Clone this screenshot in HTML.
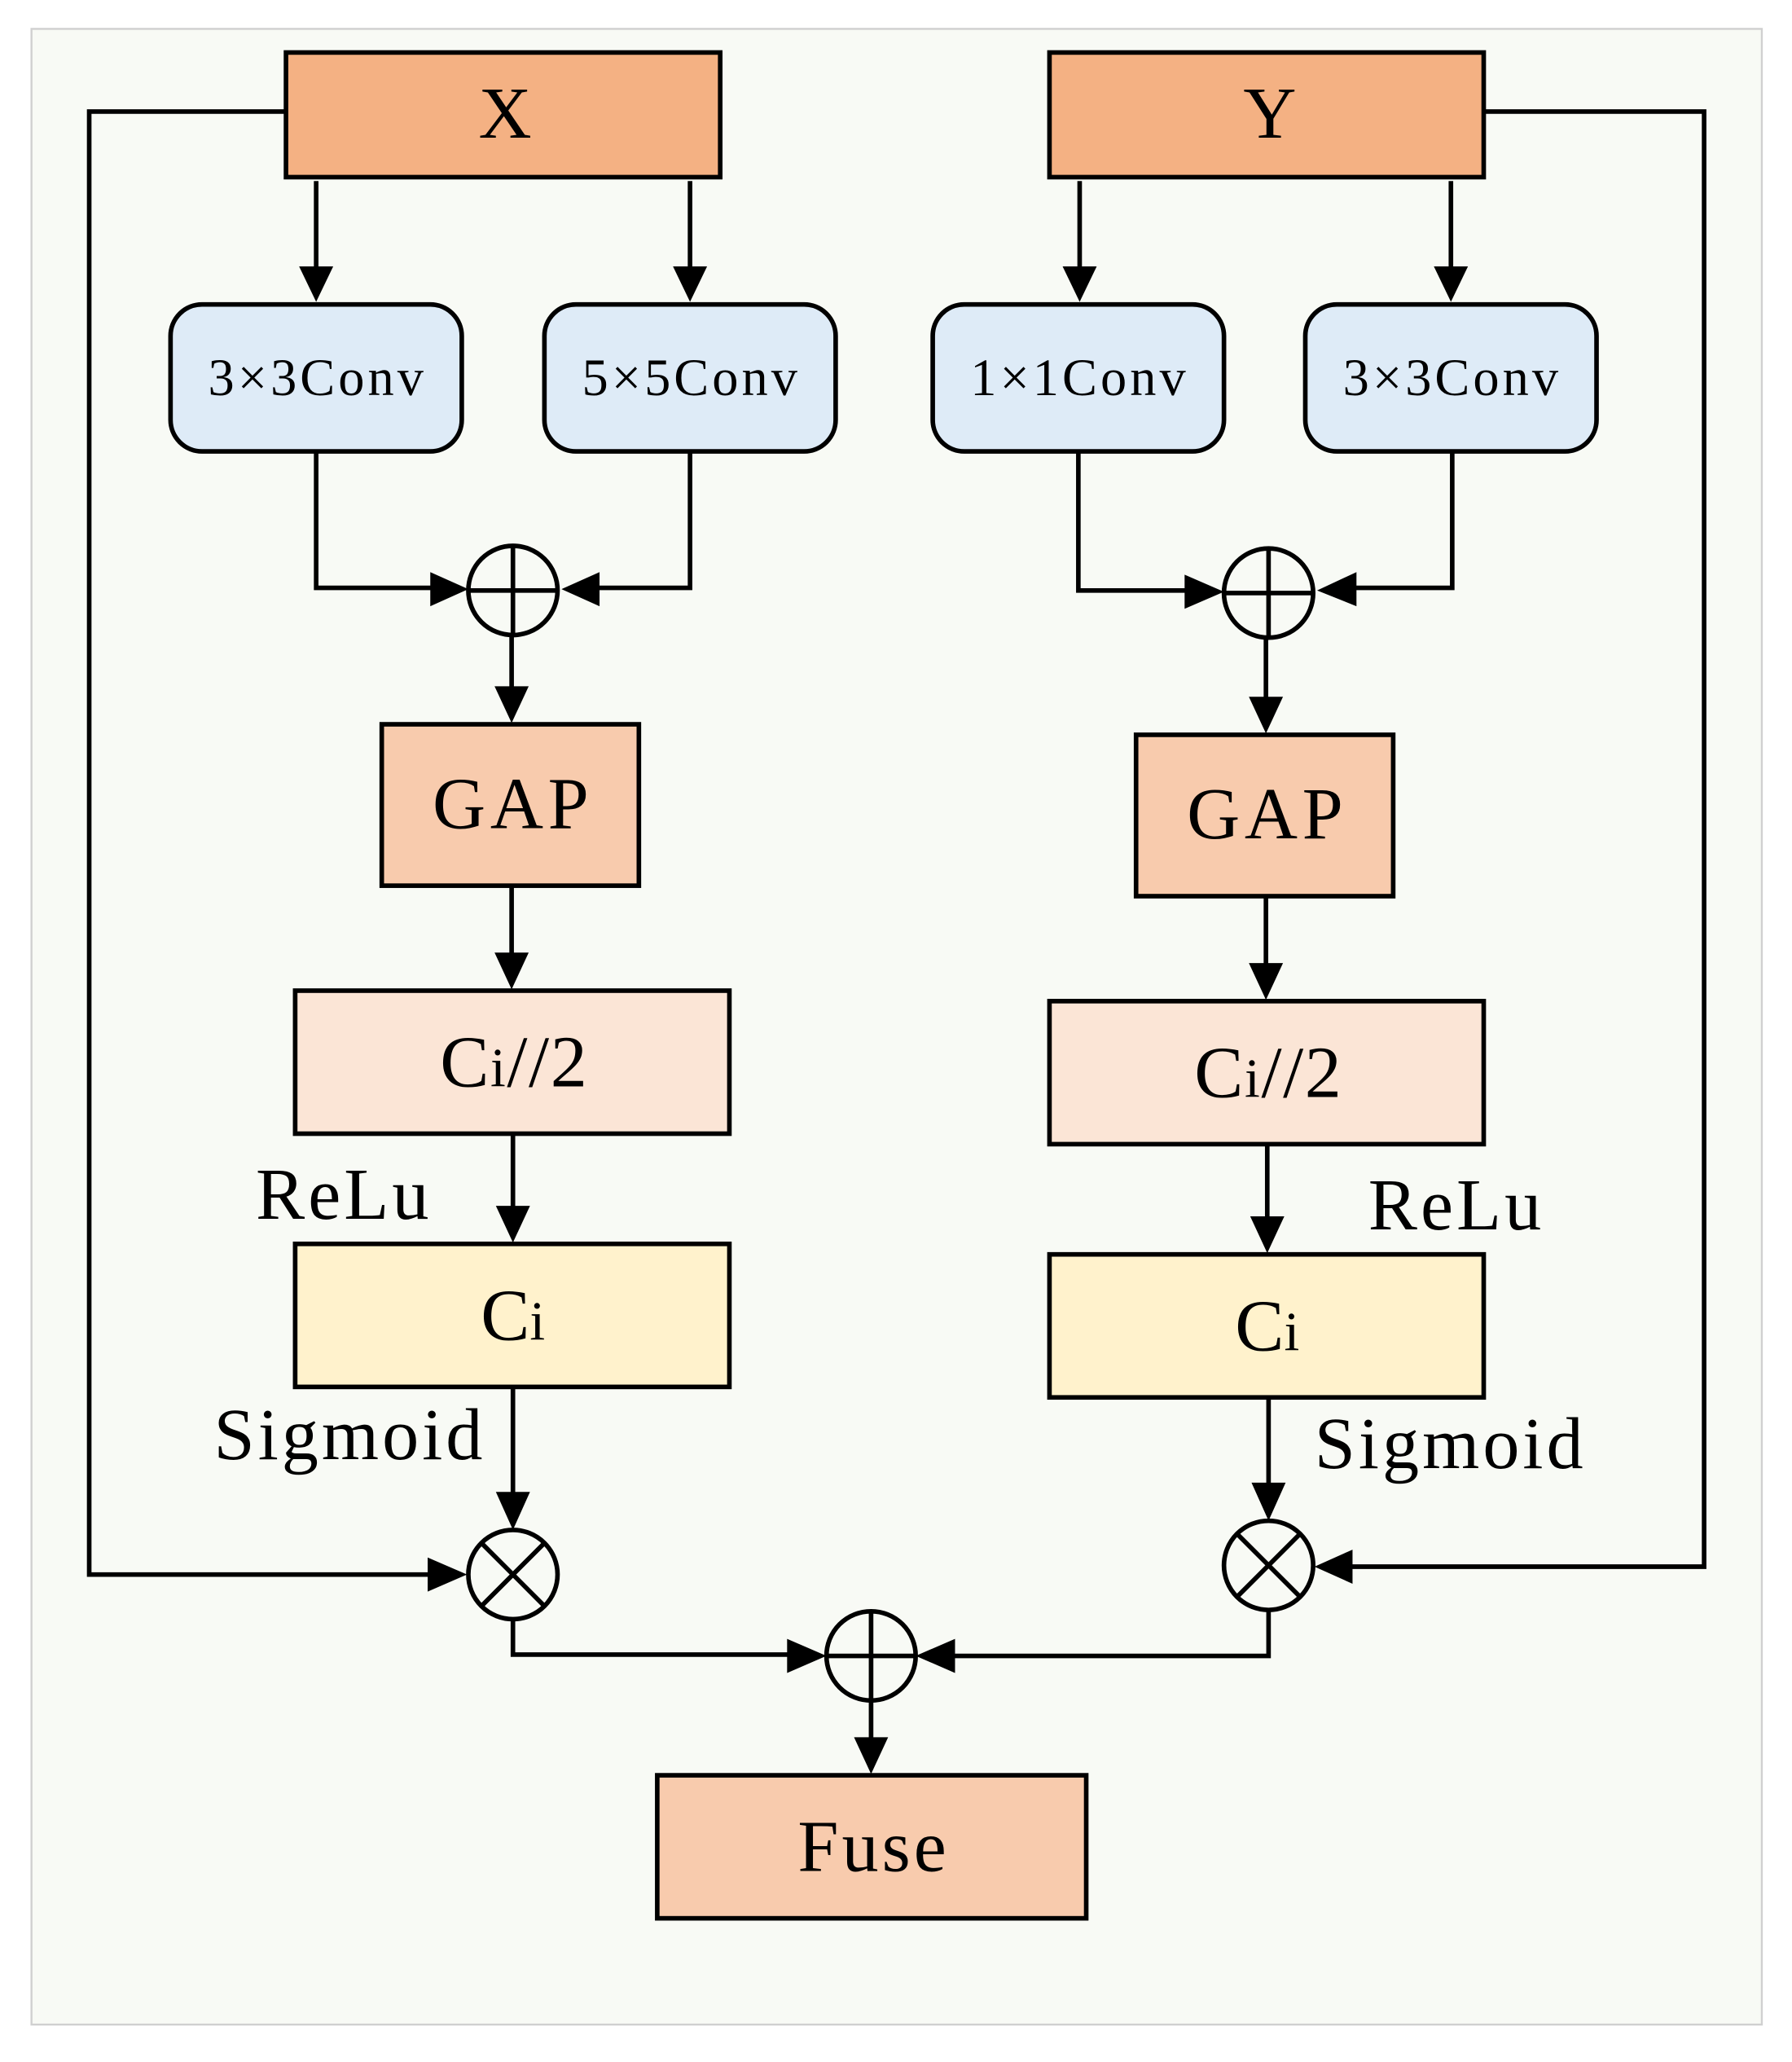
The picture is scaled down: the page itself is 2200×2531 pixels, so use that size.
<!DOCTYPE html>
<html><head><meta charset="utf-8"><style>
html,body{margin:0;padding:0;background:#fff;}
svg{display:block;}
text{font-family:"Liberation Serif",serif;fill:#000;}
</style></head><body>
<svg width="2200" height="2531" viewBox="0 0 1366 1571.5" xmlns="http://www.w3.org/2000/svg">
<rect x="0" y="0" width="1366" height="1572" fill="#fff"/>
<rect x="24" y="22" width="1319" height="1521" fill="#f8faf5" stroke="#d0d0d0" stroke-width="1.5"/>
<g stroke="#000" stroke-width="3.5" fill="none">
<rect x="218" y="40" width="331" height="95" fill="#f4b183"/>
<rect x="800" y="40" width="331" height="95" fill="#f4b183"/>
<rect x="130" y="232" width="222" height="112" rx="24" fill="#deebf7"/>
<rect x="415" y="232" width="222" height="112" rx="24" fill="#deebf7"/>
<rect x="711" y="232" width="222" height="112" rx="24" fill="#deebf7"/>
<rect x="995" y="232" width="222" height="112" rx="24" fill="#deebf7"/>
<rect x="291" y="552" width="196" height="123" fill="#f8cbad"/>
<rect x="866" y="560" width="196" height="123" fill="#f8cbad"/>
<rect x="225" y="755" width="331" height="109" fill="#fbe5d6"/>
<rect x="800" y="763" width="331" height="109" fill="#fbe5d6"/>
<rect x="225" y="948" width="331" height="109" fill="#fff2cc"/>
<rect x="800" y="956" width="331" height="109" fill="#fff2cc"/>
<rect x="501" y="1353" width="327" height="109" fill="#f8cbad"/>
<circle cx="391" cy="450" r="34"/><path d="M357 450H425M391 416V484"/>
<circle cx="967" cy="452" r="34"/><path d="M933 452H1001M967 418V486"/>
<circle cx="664" cy="1262" r="34"/><path d="M630 1262H698M664 1228V1296"/>
<circle cx="391" cy="1200" r="34"/><path d="M367 1176L415 1224M415 1176L367 1224"/>
<circle cx="967" cy="1193" r="34"/><path d="M943 1169L991 1217M991 1169L943 1217"/>
<path d="M241 138V205M526 138V205M823 138V205M1106 138V205"/>
<path d="M241 344V448H330M526 344V448H455"/>
<path d="M822 344V450H906M1107 344V448H1032"/>
<path d="M390 484V525M965 486V533M390 675V728M965 683V736M391 864V921M966 872V929M391 1057V1139M967 1065V1132"/>
<path d="M218 85H68V1200H330M1131 85H1299V1194H1028"/>
<path d="M391 1234V1261H603M967 1227V1262H725M664 1296V1326"/>
</g>
<g fill="#000">
<path d="M228 203H254L241 230Z"/><path d="M513 203H539L526 230Z"/>
<path d="M810 203H836L823 230Z"/><path d="M1093 203H1119L1106 230Z"/>
<path d="M328 436V462L357 449Z"/><path d="M457 436V462L428 449Z"/>
<path d="M903 438V464L933 451Z"/><path d="M1034 436V462L1004 450Z"/>
<path d="M377 523H403L390 551Z"/><path d="M952 531H978L965 559Z"/>
<path d="M377 726H403L390 754Z"/><path d="M952 734H978L965 762Z"/>
<path d="M378 919H404L391 947Z"/><path d="M953 927H979L966 955Z"/>
<path d="M378 1137H404L391 1166Z"/><path d="M954 1130H980L967 1159Z"/>
<path d="M326 1187V1213L356 1200Z"/><path d="M1031 1181V1207L1002 1194Z"/>
<path d="M600 1249V1275L630 1262Z"/><path d="M728 1249V1275L698 1262Z"/>
<path d="M651 1324H677L664 1352Z"/>
</g>
<g text-anchor="middle">
<text x="385" y="105" font-size="56">X</text>
<text x="968" y="105" font-size="56">Y</text>
<text x="242" y="301" font-size="40" letter-spacing="2.5">3×3Conv</text>
<text x="527" y="301" font-size="40" letter-spacing="2.5">5×5Conv</text>
<text x="823" y="301" font-size="40" letter-spacing="2.5">1×1Conv</text>
<text x="1107" y="301" font-size="40" letter-spacing="2.5">3×3Conv</text>
<text x="391" y="631" font-size="56" letter-spacing="3.5">GAP</text>
<text x="966" y="639" font-size="56" letter-spacing="3.5">GAP</text>
<text x="392" y="828" font-size="56" letter-spacing="1">C<tspan font-size="42">i</tspan>//2</text>
<text x="967" y="836" font-size="56" letter-spacing="1">C<tspan font-size="42">i</tspan>//2</text>
<text x="391" y="1021" font-size="56">C<tspan font-size="42">i</tspan></text>
<text x="966" y="1029" font-size="56">C<tspan font-size="42">i</tspan></text>
<text x="666" y="1426" font-size="56" letter-spacing="2.5">Fuse</text>
</g>
<g font-size="56" letter-spacing="2.5">
<text x="195" y="929">ReLu</text>
<text x="163" y="1112">Sigmoid</text>
<text x="1043" y="937">ReLu</text>
<text x="1002" y="1119">Sigmoid</text>
</g>
</svg>
</body></html>
